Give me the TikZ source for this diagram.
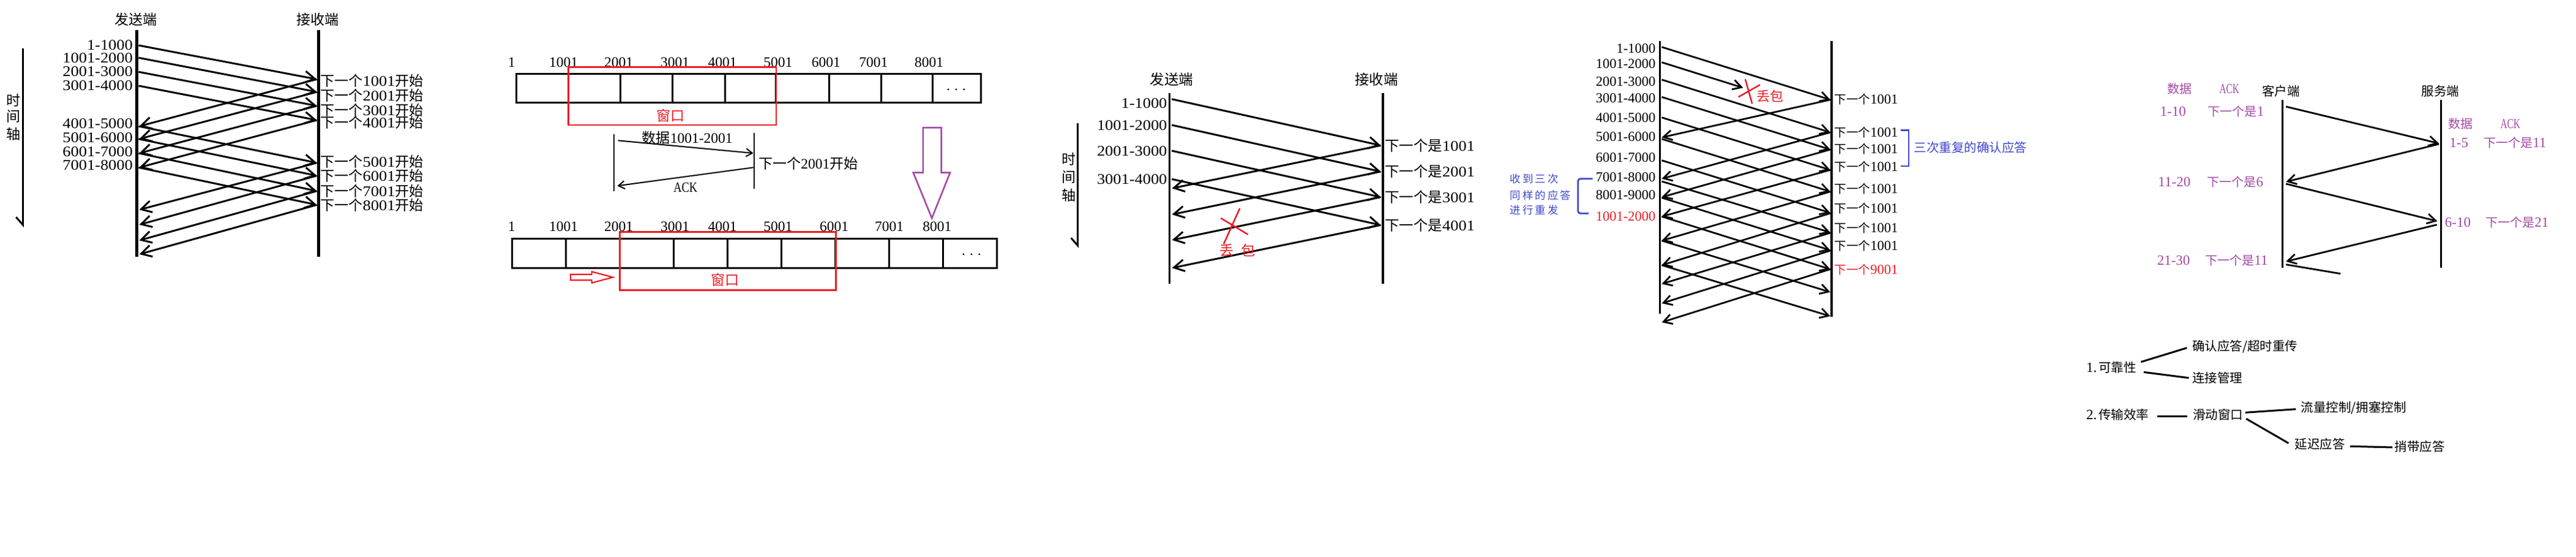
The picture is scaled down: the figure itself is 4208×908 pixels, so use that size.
\documentclass[tikz,border=0pt]{standalone}
\usepackage{fontspec}
\setmainfont{Liberation Serif}
\newfontfamily\cjk{Noto Sans CJK SC}
\newfontfamily\widedig[FakeStretch=1.1]{Liberation Serif}
\newfontfamily\narA[FakeStretch=0.8]{Liberation Serif}
\newfontfamily\narB[FakeStretch=0.68]{Liberation Serif}
\usetikzlibrary{arrows.meta}
\definecolor{pred}{RGB}{237,28,36}
\definecolor{ppur}{RGB}{163,73,164}
\definecolor{pblue}{RGB}{63,72,204}
\newcommand\fs[1]{\fontsize{#1}{#1}\selectfont}
\newcommand\Z[2]{{\cjk\fs{#1}#2}}
\newcommand\D[2]{{\fs{#1}#2}}
\newcommand\W[1]{{\widedig\fs{24}#1}}
\begin{document}
\begin{tikzpicture}[x=1pt,y=-1pt,
  every node/.style={inner sep=0pt},
  lifeA/.style={line width=4.5pt},
  lifeB/.style={line width=3.3pt},
  arrA/.style={line width=3pt,-{Straight Barb[length=17pt,width=19pt]}},
  arrB/.style={line width=2.8pt,-{Straight Barb[length=14pt,width=16pt]}},
  arrS/.style={line width=2pt,-{Straight Barb[length=10pt,width=13pt]}},
  taxis/.style={line width=3pt,-{Straight Barb[right,length=12.7pt,width=22pt]}},
  barln/.style={line width=3pt},
  winbox/.style={draw=pred,line width=2.8pt},
  redln/.style={draw=pred,line width=2.5pt},
  blueb/.style={draw=pblue,line width=2.8pt},
  plainln/.style={line width=3pt},
]
\fill[white] (0,0) rectangle (4208,908);
\useasboundingbox (0,0) rectangle (4208,908);

%% ===== Diagram 1 =====
\node (d1snd) at (222.4,31.7) {\Z{23}{发送端}};
\node (d1rcv) at (519,31.7) {\Z{23}{接收端}};
\coordinate (d1sT) at (223.3,49.3); \coordinate (d1sB) at (223.3,419.3);
\coordinate (d1rT) at (520.7,49.3); \coordinate (d1rB) at (520.7,419.3);
\draw[lifeA] (d1sT) -- (d1sB);
\draw[lifeA] (d1rT) -- (d1rB);
\coordinate (d1tT) at (37.3,79.3); \coordinate (d1tB) at (37.3,371);
\draw[taxis] (d1tT) -- (d1tB);
\node (d1t1) at (21.5,163.3) {\Z{23}{时}};
\node (d1t2) at (21.5,190) {\Z{23}{间}};
\node (d1t3) at (21.5,218.3) {\Z{23}{轴}};
\foreach \t/\y [count=\i] in {1-1000/73.3,1001-2000/94.3,2001-3000/116.7,3001-4000/139.3,4001-5000/201.7,5001-6000/225,6001-7000/247.3,7001-8000/269.3}
  \node[anchor=east] (d1L\i) at (217,\y) {\W{\t}};
\foreach \a/\b [count=\i] in {74/129.3,94.3/150,117.3/172.7,140/196,206/265.7,226.7/286.7,250/311.7,273.3/334.3}{
  \coordinate (d1fs\i) at (226.5,\a); \coordinate (d1fe\i) at (517.5,\b);
  \draw[arrA] (d1fs\i) -- (d1fe\i);}
\foreach \a/\b [count=\i] in {129.3/206,150/226.7,172.7/250,196/273.3,265.7/342.3,286.7/366.7,311.7/392.3,334.3/415}{
  \coordinate (d1as\i) at (517.5,\a); \coordinate (d1ae\i) at (227.5,\b);
  \draw[arrA] (d1as\i) -- (d1ae\i);}
\foreach \n/\y [count=\i] in {1001/132,2001/156,3001/179.3,4001/200,5001/263.3,6001/286.7,7001/311.7,8001/335}
  \node[anchor=west] (d1R\i) at (523.5,\y) {\Z{23}{下一个}\W{\n}\Z{23}{开始}};

%% ===== Diagram 2 =====
\draw[barln] (843.1,120.7) rectangle (1602,167.3);
\foreach \x [count=\i] in {928.1,1013.6,1098.6,1184.7,1267.9,1354,1439,1523.9}
  \draw[barln] (\x,120.7) -- (\x,167.3);
\foreach \t/\x [count=\i] in {1/835.7,1001/920.6,2001/1010.7,3001/1102.6,4001/1180.1,5001/1270.8,6001/1349.4,7001/1426.9,8001/1517.6}
  \node (d2T\i) at (\x,101.7) {\D{23.5}{\t}};
\node (d2dots1) at (1562,146) {\D{23.5}{.\kern7pt.\kern7pt.}};
\draw[winbox] (928.1,109.3) rectangle (1267.9,204);
\node[text=pred] (d2win1) at (1095.7,188.3) {\Z{23}{窗口}};
\coordinate (d2lT) at (1002.7,219.3); \coordinate (d2lB) at (1002.7,311.7);
\coordinate (d2rT) at (1232.3,217.3); \coordinate (d2rB) at (1232.3,308.3);
\draw[line width=2.2pt] (d2lT) -- (d2lB);
\draw[line width=2.2pt] (d2rT) -- (d2rB);
\coordinate (d2ds) at (1009.6,229.3); \coordinate (d2de) at (1230.6,250);
\coordinate (d2as) at (1230.6,273.3); \coordinate (d2ae) at (1008.5,303.3);
\draw[arrS] (d2ds) -- (d2de);
\draw[arrS] (d2as) -- (d2ae);
\node (d2data) at (1122.7,225) {\Z{23}{数据}\D{23.5}{1001-2001}};
\node (d2ack) at (1119.8,306) {{\narA\fs{23}ACK}};
\node[anchor=west] (d2next) at (1239.2,266.7) {\Z{23}{下一个}\D{23.5}{2001}\Z{23}{开始}};
\draw[ppur,line width=2.6pt,line join=miter] (1507.8,208.3) -- (1537.7,208.3) -- (1537.7,281.7) -- (1552,281.7) -- (1522.2,356) -- (1491.8,281.7) -- (1507.8,281.7) -- cycle;
\draw[barln] (836.3,389) rectangle (1628.4,437.3);
\foreach \x [count=\i] in {924.6,1012.5,1100.3,1188.1,1276.5,1364.3,1452.2,1540.5}
  \draw[barln] (\x,389) -- (\x,437.3);
\foreach \t/\x [count=\i] in {1/835.7,1001/920.6,2001/1010.7,3001/1102.6,4001/1180.1,5001/1270.8,6001/1362.6,7001/1452.7,8001/1530.8}
  \node (d2B\i) at (\x,369.3) {\D{23.5}{\t}};
\node (d2dots2) at (1587,415) {\D{23.5}{.\kern7pt.\kern7pt.}};
\draw[winbox] (1012.5,378.3) rectangle (1365.5,473.3);
\node[text=pred] (d2win2) at (1184.7,456.7) {\Z{23}{窗口}};
\draw[redln,line width=2.2pt] (932.1,447.7) -- (966.6,447.7) -- (966.6,443.3) -- (1001,452.5) -- (966.6,461.7) -- (966.6,457.3) -- (932.1,457.3) -- cycle;

%% ===== Diagram 3 =====
\node (d3snd) at (1913.8,130) {\Z{23.5}{发送端}};
\node (d3rcv) at (2248.6,130) {\Z{23.5}{接收端}};
\coordinate (d3sT) at (1910.5,151.7); \coordinate (d3sB) at (1910.5,462.7);
\coordinate (d3rT) at (2258.7,151.7); \coordinate (d3rB) at (2258.7,462.7);
\draw[line width=3.6pt] (d3sT) -- (d3sB);
\draw[line width=3.6pt] (d3rT) -- (d3rB);
\coordinate (d3tT) at (1760.7,200.7); \coordinate (d3tB) at (1760.7,405);
\draw[taxis] (d3tT) -- (d3tB);
\node (d3t1) at (1746.4,260) {\Z{23}{时}};
\node (d3t2) at (1746.4,289.3) {\Z{23}{间}};
\node (d3t3) at (1746.4,318.3) {\Z{23}{轴}};
\foreach \t/\y [count=\i] in {1-1000/168.3,1001-2000/205,2001-3000/246.7,3001-4000/292.7}
  \node[anchor=east] (d3L\i) at (1906.6,\y) {\W{\t}};
\foreach \a/\b [count=\i] in {161.7/237.3,204/280,246/321.7,292.3/367.3}{
  \coordinate (d3fs\i) at (1914,\a); \coordinate (d3fe\i) at (2255.5,\b);
  \draw[arrA] (d3fs\i) -- (d3fe\i);}
\foreach \a/\b [count=\i] in {237.3/307.3,280/350,321.7/391.7,367.3/437.3}{
  \coordinate (d3as\i) at (2255.5,\a); \coordinate (d3ae\i) at (1914.5,\b);
  \draw[arrA] (d3as\i) -- (d3ae\i);}
\foreach \n/\y [count=\i] in {1001/237.3,2001/280,3001/321.7,4001/367.3}
  \node[anchor=west] (d3R\i) at (2262,\y) {\Z{23.5}{下一个是}\W{\n}};
\coordinate (d3x1) at (2025.2,340); \coordinate (d3x2) at (1998.9,398.3);
\coordinate (d3x3) at (1994.2,356); \coordinate (d3x4) at (2038.6,382.7);
\draw[redln] (d3x1) -- (d3x2);
\draw[redln] (d3x3) -- (d3x4);
\node[text=pred] (d3lost) at (2021.7,408.3) {\Z{23}{丢\hspace{12pt}包}};

%% ===== Diagram 4 =====
\coordinate (d4sT) at (2711.7,66.7); \coordinate (d4sB) at (2711.7,511.7);
\coordinate (d4rT) at (2992,66.7); \coordinate (d4rB) at (2992,516.7);
\draw[lifeB] (d4sT) -- (d4sB);
\draw[lifeB] (d4rT) -- (d4rB);
\foreach \t/\y [count=\i] in {1-1000/79.3,1001-2000/104.3,2001-3000/132.7,3001-4000/160,4001-5000/191.7,5001-6000/223.3,6001-7000/257.3,7001-8000/289.3,8001-9000/318.3}
  \node[anchor=east] (d4L\i) at (2704.6,\y) {\D{22.5}{\t}};
\node[anchor=east,text=pred] (d4L10) at (2704.6,352.7) {\D{22.5}{1001-2000}};
\foreach \y [count=\i] in {161.7,215.7,243.3,272.3,307.7,340,372.3,400.7}
  \node[anchor=west] (d4R\i) at (2996.7,\y) {\Z{19.5}{下一个}\D{22.5}{1001}};
\node[anchor=west,text=pred] (d4R9) at (2996.7,440) {\Z{19.5}{下一个}\D{22.5}{9001}};
\foreach \a/\b [count=\i] in {76.7/162.7,130/216,158.3/244,191.7/277.3,226.7/312.7,261.7/347.3,296/379.3,322.7/408.3,353.3/439.3,392.7/476.7,432.7/516}{
  \coordinate (d4fs\i) at (2714.5,\a); \coordinate (d4fe\i) at (2989.8,\b);
  \draw[arrB] (d4fs\i) -- (d4fe\i);}
\coordinate (d4ls) at (2714.5,101.7); \coordinate (d4le) at (2847.4,143.3);
\draw[arrB] (d4ls) -- (d4le);
\foreach \a/\b [count=\i] in {162.7/224.3,216/291.7,244/321.7,277.3/353.3,312.7/392.7,348/432.7,380/463.3,409/495,439.3/526}{
  \coordinate (d4as\i) at (2989.8,\a); \coordinate (d4ae\i) at (2714.5,\b);
  \draw[arrB] (d4as\i) -- (d4ae\i);}
\coordinate (d4x1) at (2851,129.3); \coordinate (d4x2) at (2862.2,169.3);
\coordinate (d4x3) at (2839.8,158.3); \coordinate (d4x4) at (2875,138.3);
\draw[redln] (d4x1) -- (d4x2);
\draw[redln] (d4x3) -- (d4x4);
\node[text=pred] (d4lost) at (2891,156.7) {\Z{22}{丢包}};
\draw[blueb] (3105.1,212.7) -- (3117.9,212.7) -- (3117.9,271) -- (3105.1,271);
\node[anchor=west,text=pblue] (d4tri) at (3126.5,241) {\Z{20.5}{三次重复的确认应答}};
\draw[blueb,rounded corners=4pt] (2601.7,291.7) -- (2577.7,291.7) -- (2577.7,348.3) -- (2595,348.3);
\node[anchor=west,text=pblue] (d4re1) at (2466.7,291.7) {\Z{17.5}{收\kern3pt 到\kern3pt 三\kern3pt 次}};
\node[anchor=west,text=pblue] (d4re2) at (2466.7,319) {\Z{17.5}{同\kern3pt 样\kern3pt 的\kern3pt 应\kern3pt 答}};
\node[anchor=west,text=pblue] (d4re3) at (2466.7,343.3) {\Z{17.5}{进\kern3pt 行\kern3pt 重\kern3pt 发}};

%% ===== Diagram 5 =====
\node (d5cli) at (3725.9,148.3) {\Z{20.5}{客户端}};
\node (d5srv) at (3986.7,148.3) {\Z{20.5}{服务端}};
\coordinate (d5cT) at (3728.4,163.3); \coordinate (d5cB) at (3728.4,436.7);
\coordinate (d5sT) at (3987.3,163.3); \coordinate (d5sB) at (3987.3,436.7);
\draw[lifeB] (d5cT) -- (d5cB);
\draw[lifeB] (d5sT) -- (d5sB);
\begin{scope}[every node/.append style={text=ppur}]
\node (d5h1) at (3560.1,145) {\Z{20}{数据}};
\node (d5h2) at (3641.8,145) {{\narB\fs{22.5}ACK}};
\node (d5a1) at (3549.7,181.7) {\D{23}{1-10}};
\node (d5b1) at (3652.5,181.7) {\Z{20}{下一个是}\D{23}{1}};
\node (d5a2) at (3551.8,296.7) {\D{23}{11-20}};
\node (d5b2) at (3651.3,296.7) {\Z{20}{下一个是}\D{23}{6}};
\node (d5a3) at (3550.6,425) {\D{23}{21-30}};
\node (d5b3) at (3653.4,425) {\Z{20}{下一个是}\D{23}{11}};
\node (d5h3) at (4019,202.3) {\Z{20}{数据}};
\node (d5h4) at (4100.7,202.3) {{\narB\fs{22.5}ACK}};
\node (d5c1) at (4016.7,233.3) {\D{23}{1-5}};
\node (d5e1) at (4108.3,233.3) {\Z{20}{下一个是}\D{23}{11}};
\node (d5c2) at (4015,363.3) {\D{23}{6-10}};
\node (d5e2) at (4111.7,363.3) {\Z{20}{下一个是}\D{23}{21}};
\end{scope}
\coordinate (d5f1s) at (3734.2,174); \coordinate (d5f1e) at (3984.1,234);
\coordinate (d5a1s) at (3984.1,235); \coordinate (d5a1e) at (3734.2,296.7);
\coordinate (d5f2s) at (3734.2,300); \coordinate (d5f2e) at (3981.6,361);
\coordinate (d5a2s) at (3980.8,366.7); \coordinate (d5a2e) at (3734.2,426.7);
\coordinate (d5f3s) at (3734.2,431.7); \coordinate (d5f3e) at (3823.3,446.7);
\draw[arrB] (d5f1s) -- (d5f1e);
\draw[arrB] (d5a1s) -- (d5a1e);
\draw[arrB] (d5f2s) -- (d5f2e);
\draw[arrB] (d5a2s) -- (d5a2e);
\draw[line width=2.8pt] (d5f3s) -- (d5f3e);

%% ===== Diagram 6 =====
\node[anchor=west] (d6r) at (3408,599.3) {\D{23}{1.}\kern3pt\Z{20.5}{可靠性}};
\node[anchor=west] (d6r1) at (3581.2,566) {\Z{20.5}{确认应答/超时重传}};
\node[anchor=west] (d6r2) at (3581.2,616.7) {\Z{20.5}{连接管理}};
\node[anchor=west] (d6e) at (3408,676.7) {\D{23}{2.}\kern3pt\Z{20.5}{传输效率}};
\node[anchor=west] (d6sw) at (3582.1,676.7) {\Z{20.5}{滑动窗口}};
\node[anchor=west] (d6fc) at (3758.5,665.7) {\Z{20.5}{流量控制/拥塞控制}};
\node[anchor=west] (d6da) at (3748.6,725) {\Z{20.5}{延迟应答}};
\node[anchor=west] (d6pa) at (3911.6,728.3) {\Z{20.5}{捎带应答}};
\coordinate (d6l1a) at (3497.3,590.7); \coordinate (d6l1b) at (3572.3,567.7);
\coordinate (d6l2a) at (3501.8,607.3); \coordinate (d6l2b) at (3575.4,616.7);
\coordinate (d6l3a) at (3524.1,679); \coordinate (d6l3b) at (3573.2,679);
\coordinate (d6l4a) at (3667.8,673.3); \coordinate (d6l4b) at (3750.4,667.7);
\coordinate (d6l5a) at (3669.2,683.3); \coordinate (d6l5b) at (3738.4,723.3);
\coordinate (d6l6a) at (3838.8,728.3); \coordinate (d6l6b) at (3908,730);
\draw[plainln] (d6l1a) -- (d6l1b);
\draw[plainln] (d6l2a) -- (d6l2b);
\draw[plainln] (d6l3a) -- (d6l3b);
\draw[plainln] (d6l4a) -- (d6l4b);
\draw[plainln] (d6l5a) -- (d6l5b);
\draw[plainln] (d6l6a) -- (d6l6b);
\end{tikzpicture}
\end{document}
